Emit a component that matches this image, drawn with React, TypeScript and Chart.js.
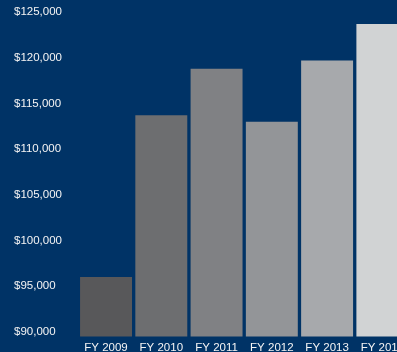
import React, { useEffect, useRef } from "react";
import { Chart, registerables } from "chart.js";

Chart.register(...registerables);

const categories = ["FY 2009", "FY 2010", "FY 2011", "FY 2012", "FY 2013", "FY 2014"];
const values = [96000, 113700, 118800, 113000, 119700, 123700];
const barColors = ["#58585a", "#6d6e70", "#808184", "#939598", "#a7a9ac", "#d1d3d4"];
const yTicks = [90000, 95000, 100000, 105000, 110000, 115000, 120000, 125000];

const BG = "#003366";
const FONT = "'Liberation Sans', Arial, Helvetica, sans-serif";

export default function App() {
  const ref = useRef<HTMLCanvasElement | null>(null);

  useEffect(() => {
    if (!ref.current) return;
    const chart = new Chart(ref.current, {
      type: "bar",
      data: {
        labels: categories,
        datasets: [
          {
            data: values,
            backgroundColor: barColors,
            borderWidth: 0,
            barPercentage: 0.94,
            categoryPercentage: 1,
          },
        ],
      },
      options: {
        responsive: false,
        animation: false,
        devicePixelRatio: 1,
        layout: { padding: { left: 14, top: 12, right: 0, bottom: 0 } },
        plugins: {
          legend: { display: false },
          tooltip: { enabled: false },
        },
        scales: {
          x: {
            grid: { display: false, drawTicks: false },
            border: { display: false },
            ticks: {
              color: "#f4f4f4",
              font: { family: FONT, size: 11.5 },
              padding: 4,
              maxRotation: 0,
              autoSkip: false,
            },
            afterFit: (scale: any) => {
              scale.height = 15.5;
            },
          },
          y: {
            min: 89500,
            max: 125000,
            grid: { display: false, drawTicks: false },
            border: { display: false },
            afterBuildTicks: (scale: any) => {
              scale.ticks = yTicks.map((v) => ({ value: v }));
            },
            ticks: {
              color: "#f4f4f4",
              font: { family: FONT, size: 11.5 },
              crossAlign: "far",
              callback: (v: any) => "$" + Number(v).toLocaleString("en-US"),
            },
            afterFit: (scale: any) => {
              scale.width = 64.4;
            },
          },
        },
      },
    });
    return () => chart.destroy();
  }, []);

  return (
    <div
      style={{
        position: "fixed",
        left: 0,
        top: 0,
        width: 397,
        height: 352,
        overflow: "hidden",
        background: BG,
      }}
    >
      <canvas ref={ref} width={410} height={352} style={{ display: "block", width: 410, height: 352 }} />
    </div>
  );
}
